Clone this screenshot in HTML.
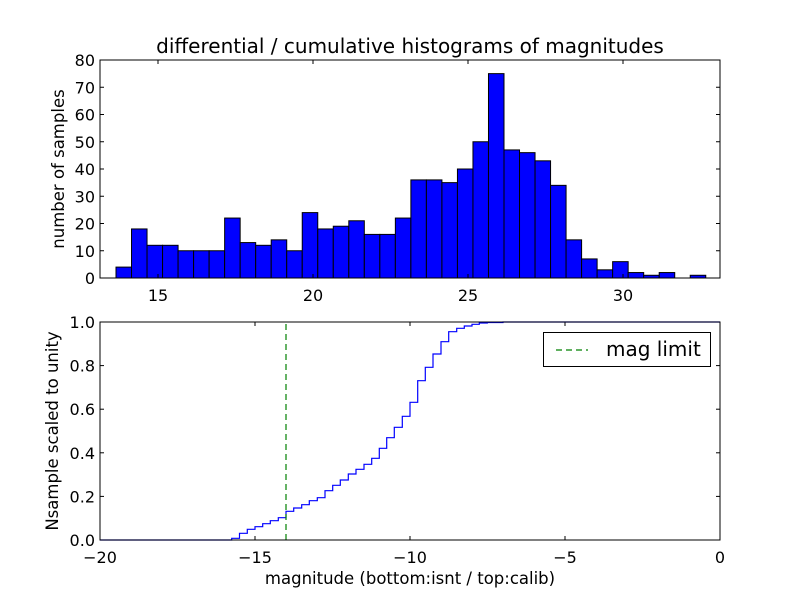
<!DOCTYPE html>
<html><head><meta charset="utf-8"><style>
html,body{margin:0;padding:0;background:#fff;}
svg{display:block;font-family:"DejaVu Sans","Liberation Sans",sans-serif;}
</style></head><body>
<svg id="s" width="800" height="600" xmlns="http://www.w3.org/2000/svg">
<rect width="800" height="600" fill="#fff"/>
<text x="410" y="53" font-size="20" text-anchor="middle">differential / cumulative histograms of magnitudes</text>
<g id="gtop"></g>
<rect x="100" y="60" width="620" height="218" fill="none" stroke="#000" stroke-width="1"/>
<text transform="translate(64,169) rotate(-90)" font-size="16.5" text-anchor="middle">number of samples</text>
<g id="gbot"></g>
<line x1="286" y1="540" x2="286" y2="322" stroke="#008000" stroke-width="1.2" stroke-dasharray="6,4"/>
<rect x="100" y="322" width="620" height="218" fill="none" stroke="#000" stroke-width="1"/>
<text transform="translate(58,431) rotate(-90)" font-size="16.5" text-anchor="middle">Nsample scaled to unity</text>
<text x="410" y="584" font-size="16.5" text-anchor="middle">magnitude (bottom:isnt / top:calib)</text>
<rect x="543.5" y="332.5" width="167" height="34" fill="#fff" stroke="#000"/>
<line x1="556" y1="350" x2="588" y2="350" stroke="#008000" stroke-width="1.2" stroke-dasharray="6,4"/>
<text x="606" y="356" font-size="20">mag limit</text>
</svg>
<script>
(function(){
var NS="http://www.w3.org/2000/svg";
function el(p,t,a,txt){var e=document.createElementNS(NS,t);for(var k in a)e.setAttribute(k,a[k]);if(txt!=null)e.textContent=txt;p.appendChild(e);return e;}
var gt=document.getElementById('gtop'),gb=document.getElementById('gbot');
var h=[4,18,12,12,10,10,10,22,13,12,14,10,24,18,19,21,16,16,22,36,36,35,40,50,75,47,46,43,34,14,7,3,6,2,1,2,0,1];
for(var i=0;i<h.length;i++){if(!h[i])continue;var x=116+15.52*i,hh=h[i]*2.725;
el(gt,'rect',{x:x,y:278-hh,width:15.52,height:hh,fill:'#0000ff',stroke:'#000','stroke-width':1});}
for(var v=0;v<=80;v+=10){var y=278-v*2.725;
el(gt,'line',{x1:100,y1:y,x2:104,y2:y,stroke:'#000'});el(gt,'line',{x1:716,y1:y,x2:720,y2:y,stroke:'#000'});
el(gt,'text',{x:95,y:y+6,'font-size':16,'text-anchor':'end'},v);}
[15,20,25,30].forEach(function(v){var x=158+(v-15)*31;
el(gt,'line',{x1:x,y1:278,x2:x,y2:274,stroke:'#000'});el(gt,'line',{x1:x,y1:60,x2:x,y2:64,stroke:'#000'});
el(gt,'text',{x:x,y:301,'font-size':16,'text-anchor':'middle'},v);});
[0,0.2,0.4,0.6,0.8,1].forEach(function(v){var y=540-218*v;
el(gb,'line',{x1:100,y1:y,x2:104,y2:y,stroke:'#000'});el(gb,'line',{x1:716,y1:y,x2:720,y2:y,stroke:'#000'});
el(gb,'text',{x:95,y:y+6,'font-size':16,'text-anchor':'end'},v.toFixed(1));});
[-20,-15,-10,-5,0].forEach(function(v){var x=720+v*31;
el(gb,'line',{x1:x,y1:540,x2:x,y2:536,stroke:'#000'});el(gb,'line',{x1:x,y1:322,x2:x,y2:326,stroke:'#000'});
el(gb,'text',{x:x,y:563,'font-size':16,'text-anchor':'middle'},v==0?'0':'\u2212'+(-v));});
var xs=[231.7,239.5,247.3,255,262.7,270.3,278.3,286,293.7,301.7,309.3,317.3,325,332.7,340.3,348.3,356,364,371.7,379.3,386.7,394.3,402.3,410,417.7,425.3,433,441,448.7,456.7,464.3,472,479.3,487.3,503];
var ys=[538.3,533.3,529.3,526.7,523.7,520.7,517.7,511.3,508,504.7,500.7,497.7,490.7,485.3,480,474,469.3,464.3,458.3,448.3,437.7,427.3,416.3,402.3,380.7,367.3,354,341.7,331.7,328.3,326,324.3,323,322.5];
var d='M100,540 L'+xs[0]+',540';
for(var j=0;j<ys.length;j++){d+=' L'+xs[j]+','+ys[j]+' L'+xs[j+1]+','+ys[j];}
d+=' L'+xs[xs.length-1]+',322 L720,322';
el(gb,'path',{d:d,fill:'none',stroke:'#0000ff','stroke-width':1.2});
})();
</script>
</body></html>
